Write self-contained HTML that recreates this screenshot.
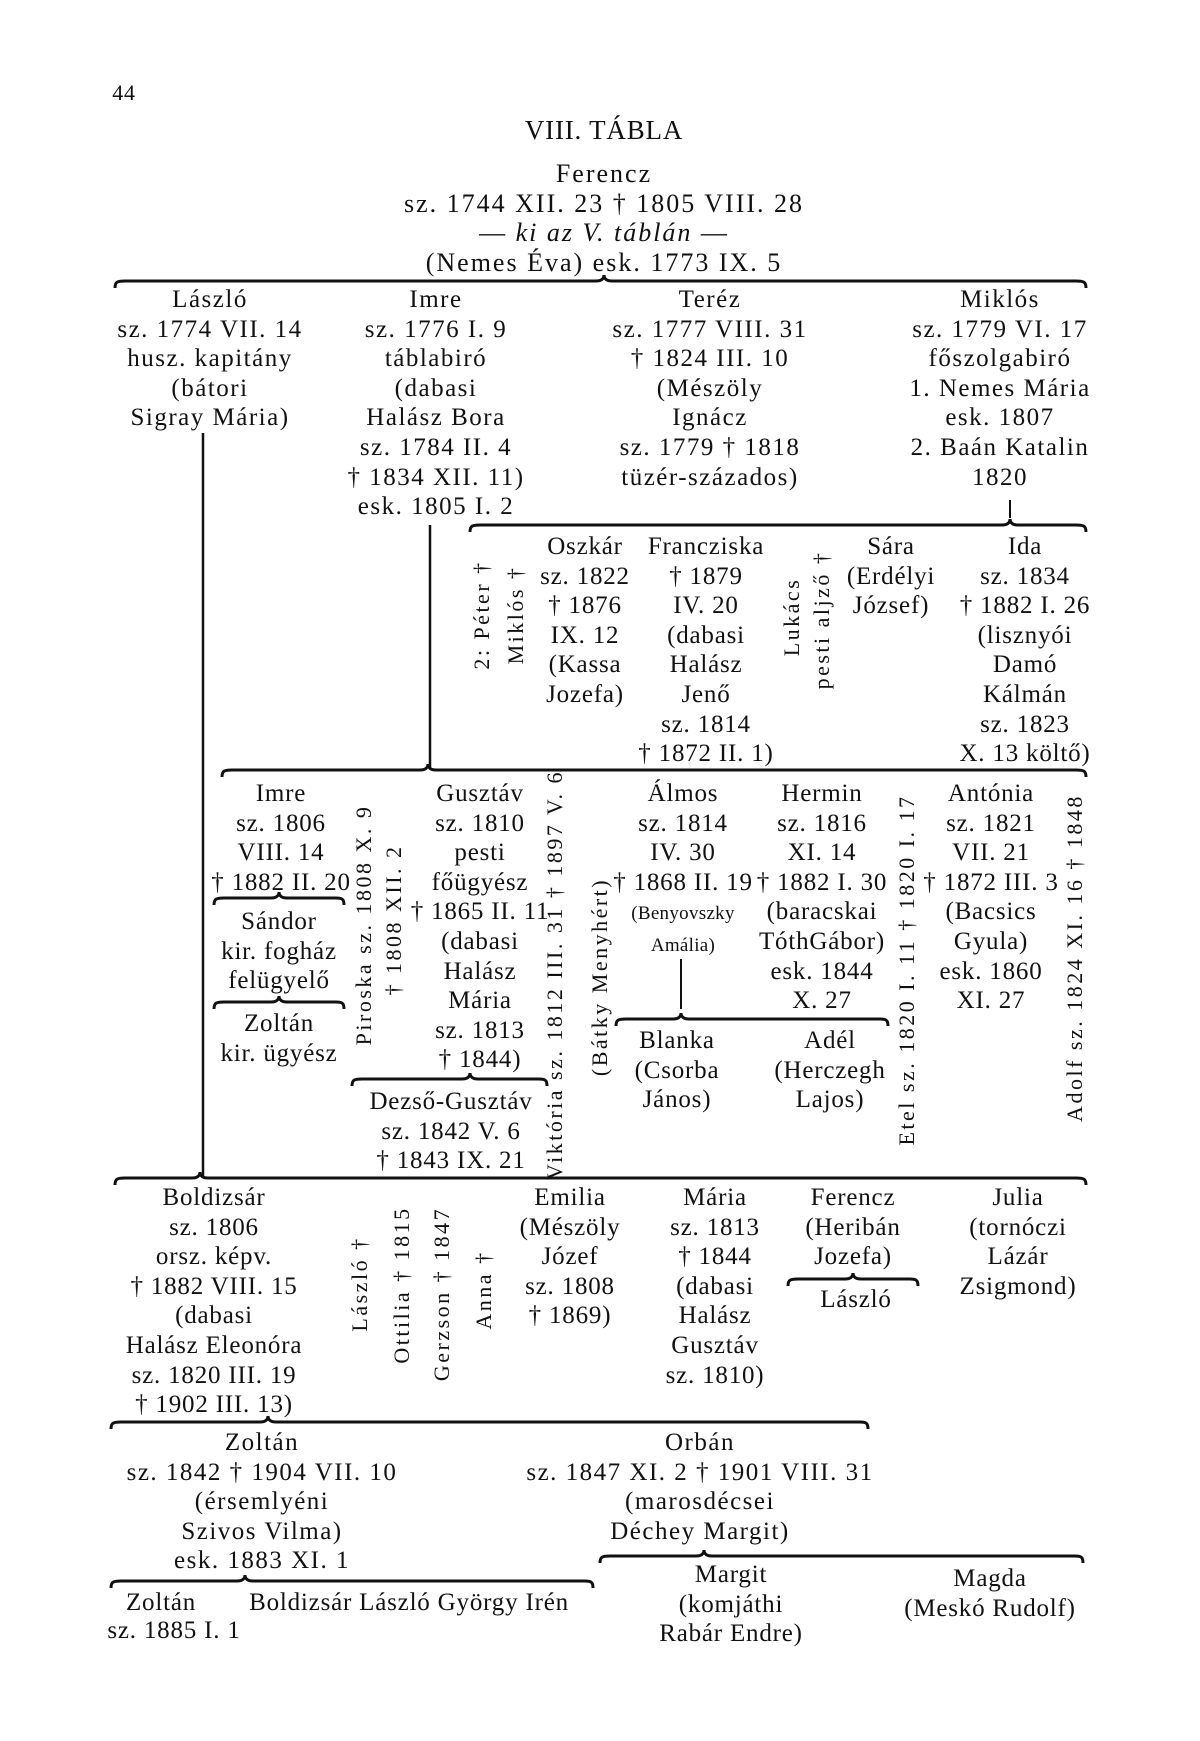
<!DOCTYPE html>
<html><head><meta charset="utf-8">
<style>
html,body{margin:0;padding:0;background:#fff}
#p{position:relative;width:1200px;height:1741px;overflow:hidden;font-family:"Liberation Serif",serif;color:#111;font-size:25px;letter-spacing:0.8px}
.b{position:absolute;transform:translateX(-50%);text-align:center;white-space:nowrap;line-height:29.6px}
.w{letter-spacing:1.5px}
.r{position:absolute;white-space:nowrap;transform:translate(-50%,-50%) rotate(-90deg);font-size:22px;letter-spacing:2.5px;line-height:1}
.s{font-size:19px;letter-spacing:0.3px}
svg{position:absolute;left:0;top:0}
</style></head><body><div id="p">
<svg width="1200" height="1741" fill="none" stroke="#111" stroke-width="3">
<path d="M115 288 C115 282,117 281,125 281 L596 281 C601 281,604 279,604 275 C604 279,607 281,612 281 L1076 281 C1084 281,1086 282,1086 288"/>
<path d="M470 532 C470 526,472 525,480 525 L1002 525 C1007 525,1010 523,1010 519 C1010 523,1013 525,1018 525 L1076 525 C1084 525,1086 526,1086 532"/>
<line x1="1010" y1="500" x2="1010" y2="518" stroke-width="2"/>
<line x1="203" y1="433" x2="203" y2="1178" stroke-width="2.5"/>
<line x1="430" y1="525" x2="430" y2="768" stroke-width="2.5"/>
<path d="M222 777 C222 771,224 770,232 770 L420 770 C425 770,428 768,428 764 C428 768,431 770,436 770 L1076 770 C1084 770,1086 771,1086 777"/>
<path d="M214 905 C214 899,216 898,224 898 L271 898 C276 898,279 896,279 892 C279 896,282 898,287 898 L336 898 C342 898,344 899,344 905"/>
<path d="M214 1009 C214 1003,216 1002,224 1002 L271 1002 C276 1002,279 1000,279 996 C279 1000,282 1002,287 1002 L336 1002 C342 1002,344 1003,344 1009"/>
<path d="M352 1086 C352 1080,354 1079,362 1079 L462 1079 C467 1079,470 1077,470 1073 C470 1077,473 1079,478 1079 L539 1079 C545 1079,547 1080,547 1086"/>
<line x1="681" y1="959" x2="681" y2="1009" stroke-width="2"/>
<path d="M616 1026 C616 1020,618 1019,626 1019 L673 1019 C678 1019,681 1017,681 1013 C681 1017,684 1019,689 1019 L880 1019 C886 1019,888 1020,888 1026"/>
<path d="M115 1185 C115 1179,117 1178,125 1178 L192 1178 C197 1178,200 1176,200 1172 C200 1176,203 1178,208 1178 L1076 1178 C1084 1178,1086 1179,1086 1185"/>
<path d="M788 1286 C788 1280,790 1279,798 1279 L845 1279 C850 1279,853 1277,853 1273 C853 1277,856 1279,861 1279 L910 1279 C916 1279,918 1280,918 1286"/>
<path d="M111 1429 C111 1423,113 1422,121 1422 L260 1422 C265 1422,268 1420,268 1416 C268 1420,271 1422,276 1422 L860 1422 C866 1422,868 1423,868 1429"/>
<path d="M600 1563 C600 1557,602 1556,610 1556 L696 1556 C701 1556,704 1554,704 1550 C704 1554,707 1556,712 1556 L1075 1556 C1081 1556,1083 1557,1083 1563"/>
<path d="M111 1588 C111 1582,113 1581,121 1581 L237 1581 C242 1581,245 1579,245 1575 C245 1579,248 1581,253 1581 L585 1581 C591 1581,593 1582,593 1588"/>
</svg>

<div class="b" style="left:124px;top:78px;font-size:22px">44</div>
<div class="b" style="left:604px;top:116px;font-size:27px">VIII. TÁBLA</div>
<div class="b" style="left:604px;top:159px;font-size:26px;letter-spacing:2px">Ferencz<br>sz. 1744 XII. 23 † 1805 VIII. 28<br>— <i>ki az V. táblán</i> —<br>(Nemes Éva) esk. 1773 IX. 5</div>

<div class="b w" style="left:210px;top:285px">László<br>sz. 1774 VII. 14<br>husz. kapitány<br>(bátori<br>Sigray Mária)</div>
<div class="b w" style="left:436px;top:285px">Imre<br>sz. 1776 I. 9<br>táblabiró<br>(dabasi<br>Halász Bora<br>sz. 1784 II. 4<br>† 1834 XII. 11)<br>esk. 1805 I. 2</div>
<div class="b w" style="left:710px;top:285px">Teréz<br>sz. 1777 VIII. 31<br>† 1824 III. 10<br>(Mészöly<br>Ignácz<br>sz. 1779 † 1818<br>tüzér-százados)</div>
<div class="b w" style="left:1000px;top:285px">Miklós<br>sz. 1779 VI. 17<br>főszolgabiró<br>1. Nemes Mária<br>esk. 1807<br>2. Baán Katalin<br>1820</div>

<div class="r" style="left:482px;top:615px">2: Péter †</div>
<div class="r" style="left:516px;top:615px">Miklós †</div>
<div class="b" style="left:585px;top:532px">Oszkár<br>sz. 1822<br>† 1876<br>IX. 12<br>(Kassa<br>Jozefa)</div>
<div class="b" style="left:706px;top:532px">Francziska<br>† 1879<br>IV. 20<br>(dabasi<br>Halász<br>Jenő<br>sz. 1814<br>† 1872 II. 1)</div>
<div class="r" style="left:792px;top:617px">Lukács</div>
<div class="r" style="left:822px;top:620px">pesti aljző †</div>
<div class="b" style="left:891px;top:532px">Sára<br>(Erdélyi<br>József)</div>
<div class="b" style="left:1025px;top:532px">Ida<br>sz. 1834<br>† 1882 I. 26<br>(lisznyói<br>Damó<br>Kálmán<br>sz. 1823<br>X. 13 költő)</div>

<div class="b" style="left:281px;top:779px">Imre<br>sz. 1806<br>VIII. 14<br>† 1882 II. 20</div>
<div class="b" style="left:279px;top:907px">Sándor<br>kir. fogház<br>felügyelő</div>
<div class="b" style="left:279px;top:1009px">Zoltán<br>kir. ügyész</div>
<div class="r" style="left:364px;top:925px">Piroska sz. 1808 X. 9</div>
<div class="r" style="left:394px;top:920px">† 1808 XII. 2</div>
<div class="b" style="left:480px;top:779px">Gusztáv<br>sz. 1810<br>pesti<br>főügyész<br>† 1865 II. 11<br>(dabasi<br>Halász<br>Mária<br>sz. 1813<br>† 1844)</div>
<div class="b" style="left:451px;top:1087px">Dezső-Gusztáv<br>sz. 1842 V. 6<br>† 1843 IX. 21</div>
<div class="r" style="left:555px;top:975px">Viktória sz. 1812 III. 31 † 1897 V. 6</div>
<div class="r" style="left:600px;top:977px">(Bátky Menyhért)</div>
<div class="b" style="left:683px;top:779px">Álmos<br>sz. 1814<br>IV. 30<br>† 1868 II. 19<br><span class="s">(Benyovszky</span><br><span class="s">Amália)</span></div>
<div class="b" style="left:822px;top:779px">Hermin<br>sz. 1816<br>XI. 14<br>† 1882 I. 30<br>(baracskai<br>TóthGábor)<br>esk. 1844<br>X. 27</div>
<div class="b" style="left:677px;top:1026px">Blanka<br>(Csorba<br>János)</div>
<div class="b" style="left:830px;top:1026px">Adél<br>(Herczegh<br>Lajos)</div>
<div class="r" style="left:907px;top:970px">Etel sz. 1820 I. 11 † 1820 I. 17</div>
<div class="b" style="left:991px;top:779px">Antónia<br>sz. 1821<br>VII. 21<br>† 1872 III. 3<br>(Bacsics<br>Gyula)<br>esk. 1860<br>XI. 27</div>
<div class="r" style="left:1075px;top:958px">Adolf sz. 1824 XI. 16 † 1848</div>

<div class="b" style="left:214px;top:1183px">Boldizsár<br>sz. 1806<br>orsz. képv.<br>† 1882 VIII. 15<br>(dabasi<br>Halász Eleonóra<br>sz. 1820 III. 19<br>† 1902 III. 13)</div>
<div class="r" style="left:360px;top:1284px">László †</div>
<div class="r" style="left:402px;top:1285px">Ottilia † 1815</div>
<div class="r" style="left:442px;top:1294px">Gerzson † 1847</div>
<div class="r" style="left:484px;top:1290px">Anna †</div>
<div class="b" style="left:570px;top:1183px">Emilia<br>(Mészöly<br>Józef<br>sz. 1808<br>† 1869)</div>
<div class="b" style="left:715px;top:1183px">Mária<br>sz. 1813<br>† 1844<br>(dabasi<br>Halász<br>Gusztáv<br>sz. 1810)</div>
<div class="b" style="left:853px;top:1183px">Ferencz<br>(Heribán<br>Jozefa)</div>
<div class="b" style="left:856px;top:1285px">László</div>
<div class="b" style="left:1018px;top:1183px">Julia<br>(tornóczi<br>Lázár<br>Zsigmond)</div>

<div class="b w" style="left:262px;top:1428px">Zoltán<br>sz. 1842 † 1904 VII. 10<br>(érsemlyéni<br>Szivos Vilma)<br>esk. 1883 XI. 1</div>
<div class="b w" style="left:700px;top:1428px">Orbán<br>sz. 1847 XI. 2 † 1901 VIII. 31<br>(marosdécsei<br>Déchey Margit)</div>

<div class="b" style="left:161px;top:1588px">Zoltán</div>
<div class="b" style="left:174px;top:1616px">sz. 1885 I. 1</div>
<div class="b" style="left:409px;top:1588px">Boldizsár László György Irén</div>
<div class="b" style="left:731px;top:1560px">Margit<br>(komjáthi<br>Rabár Endre)</div>
<div class="b" style="left:990px;top:1564px">Magda<br>(Meskó Rudolf)</div>
</div></body></html>
